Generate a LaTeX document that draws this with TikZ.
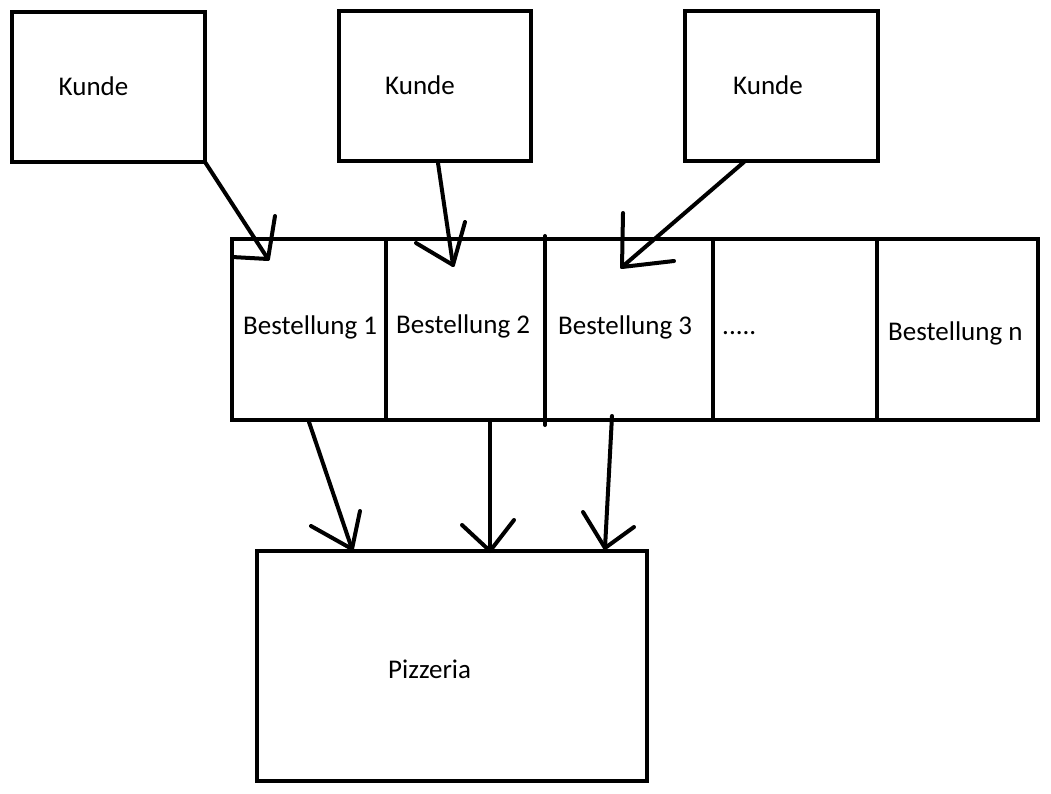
\documentclass[tikz,border=0pt]{standalone}
\usepackage{fontspec}
\setmainfont{Carlito}
\begin{document}
\begin{tikzpicture}[x=1pt,y=-1pt,
  box/.style={draw=black,line width=4pt,rectangle,inner sep=0pt,outer sep=0pt},
  lbl/.style={anchor=base west,inner sep=0pt,font=\fontsize{27}{32}\selectfont},
  stroke/.style={draw=black,line width=4pt,line cap=round,line join=round}]
\useasboundingbox[fill=white] (0,0) rectangle (1051,794);
% customers
\node[box,minimum width=193pt,minimum height=150pt] (k1) at (108.5,87) {};
\node[box,minimum width=192pt,minimum height=150pt] (k2) at (435,86) {};
\node[box,minimum width=193pt,minimum height=150pt] (k3) at (781.5,86) {};
\node[lbl] (tk1) at (58.5,96) {Kunde};
\node[lbl] (tk2) at (385,95) {Kunde};
\node[lbl] (tk3) at (733,95) {Kunde};
% orders
\node[box,minimum width=154pt,minimum height=181pt] (b1) at (309,329.5) {};
\node[box,minimum width=159pt,minimum height=181pt] (b2) at (465.5,329.5) {};
\node[box,minimum width=168pt,minimum height=181pt] (b3) at (629,329.5) {};
\node[box,minimum width=164pt,minimum height=181pt] (b4) at (795,329.5) {};
\node[box,minimum width=161pt,minimum height=181pt] (b5) at (957.5,329.5) {};
\draw[stroke] (545,236) -- (545,425);
\node[lbl] (tb1) at (243,334) {Bestellung 1};
\node[lbl] (tb2) at (396,333) {Bestellung 2};
\node[lbl] (tb3) at (558,334) {Bestellung 3};
\node[lbl] (tb4) at (722,334) {.....};
\node[lbl] (tb5) at (888,340) {Bestellung n};
% pizzeria
\node[box,minimum width=390pt,minimum height=230pt] (p) at (452,666) {};
\node[lbl] (tp) at (388,678) {Pizzeria};
% arrow points
\coordinate (t1) at (205,162); \coordinate (h1) at (268,259);
\coordinate (l1) at (232,257); \coordinate (r1) at (275,216);
\coordinate (t2) at (438,163); \coordinate (h2) at (453,265);
\coordinate (l2) at (416,243); \coordinate (r2) at (465,222);
\coordinate (t3) at (744,162); \coordinate (h3) at (622,267);
\coordinate (l3) at (623,213); \coordinate (r3) at (674,261);
\coordinate (t4) at (309,422); \coordinate (h4) at (352,549);
\coordinate (l4) at (311,526); \coordinate (r4) at (360,511);
\coordinate (t5) at (490,422); \coordinate (h5) at (490,551);
\coordinate (l5) at (462,525); \coordinate (r5) at (514,520);
\coordinate (t6) at (612,416); \coordinate (h6) at (605,548);
\coordinate (l6) at (583,512); \coordinate (r6) at (634,527);
\foreach \i in {1,...,6}{
  \draw[stroke] (t\i) -- (h\i);
  \draw[stroke] (l\i) -- (h\i) -- (r\i);
}
\end{tikzpicture}
\end{document}
